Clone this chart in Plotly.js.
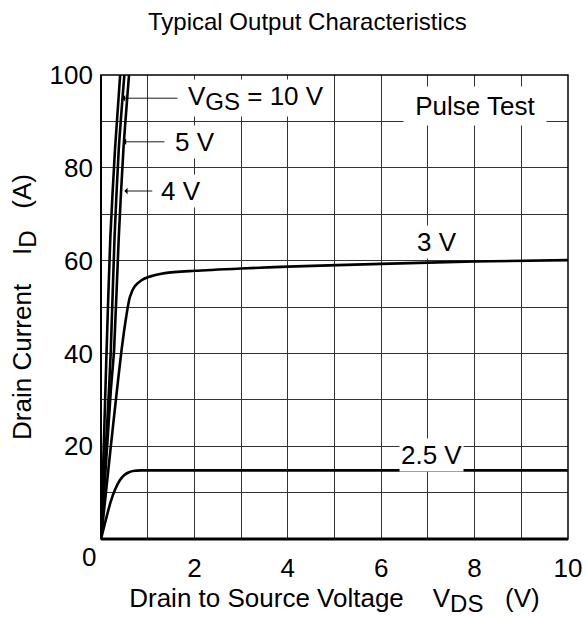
<!DOCTYPE html>
<html>
<head>
<meta charset="utf-8">
<script src="https://cdn.plot.ly/plotly-3.0.1.min.js"></script>
<style>html,body{margin:0;padding:0;background:#fff;}#chart{width:587px;height:617px;}</style>
</head>
<body>
<div id="chart"></div>
<script>
// ---- data ----
const vds10 = [0, 0.12, 0.2, 0.3, 0.41];
const id10  = [0, 40.7, 65, 84, 100];
const vds5  = [0, 0.17, 0.21, 0.29, 0.38, 0.5];
const id5   = [0, 32, 40.7, 65, 84, 100];
const vds4  = [0, 0.21, 0.28, 0.38, 0.48, 0.6];
const id4   = [0, 32, 40.7, 65, 84, 100];
const vds3  = [0, 0.2, 0.33, 0.44, 0.54, 0.62, 0.72, 0.86, 1, 1.37, 2, 3, 4, 6, 8, 10];
const id3   = [0, 19, 31, 40.7, 47.9, 52.2, 54.4, 55.7, 56.4, 57.3, 57.8, 58.3, 58.7, 59.3, 59.8, 60.1];
const vds25 = [0, 0.1, 0.2, 0.3, 0.4, 0.5, 0.6, 0.72, 0.85, 10];
const id25  = [0, 4, 7.8, 10.6, 12.6, 13.8, 14.4, 14.7, 14.8, 14.8];

const xTickVals = [0,1,2,3,4,5,6,7,8,9,10];
const xTickText = ['', '', '2', '', '4', '', '6', '', '8', '', '10'];
const yTickVals = [0,10,20,30,40,50,60,70,80,90,100];
const yTickText = ['', '', '20', '', '40', '', '60', '', '80', '', '100'];

const FONT = 'Liberation Sans, Arial, sans-serif';
const FS = 26;
const SUB = '<span style="font-size:24px">';

const lineStyle = {color: '#000', width: 2.6};
const traces = [
  {x: vds10, y: id10, mode: 'lines', line: Object.assign({shape:'spline', smoothing:0.6}, lineStyle), hoverinfo:'skip'},
  {x: vds5,  y: id5,  mode: 'lines', line: Object.assign({shape:'spline', smoothing:0.6}, lineStyle), hoverinfo:'skip'},
  {x: vds4,  y: id4,  mode: 'lines', line: Object.assign({shape:'spline', smoothing:0.6}, lineStyle), hoverinfo:'skip'},
  {x: vds3,  y: id3,  mode: 'lines', line: Object.assign({shape:'spline', smoothing:0.8}, lineStyle), hoverinfo:'skip'},
  {x: vds25, y: id25, mode: 'lines', line: Object.assign({shape:'spline', smoothing:0.6}, lineStyle), hoverinfo:'skip'}
];

function label(x, y, text, xanchor, pad) {
  return {x: x, y: y, xref: 'x', yref: 'y', text: text, showarrow: false,
    xanchor: xanchor || 'center', yanchor: 'middle', bgcolor: '#fff', borderpad: pad || 1,
    font: {family: FONT, size: FS, color: '#000'}};
}
function arrow(x, y, ax, ay) {
  return {x: x, y: y, ax: ax, ay: ay, xref: 'x', yref: 'y', axref: 'x', ayref: 'y',
    text: '', showarrow: true, arrowhead: 1, arrowsize: 1.2, arrowwidth: 0.9, arrowcolor: '#000', standoff: 0};
}

const annotations = [
  arrow(0.45, 95, 1.67, 95),
  arrow(0.47, 85.6, 1.39, 85.6),
  arrow(0.5, 75, 1.13, 75),
  label(1.82, 95, 'V<sub>' + SUB + 'GS</span></sub> = 10 V', 'left'),
  label(1.55, 85.6, '5 V', 'left'),
  label(1.25, 75, '4 V', 'left'),
  label(8.0, 93.3, ' Pulse Test ', 'center', 4),
  label(7.2, 64, '3 V'),
  label(7.07, 18.2, '2.5 V'),
  {x: 0, y: 0, xref: 'x', yref: 'y', text: '0', showarrow: false, xanchor: 'right', yanchor: 'top',
   xshift: -3, yshift: -1, font: {family: FONT, size: FS, color: '#000'}},
  {x: 0.443, y: 1, xref: 'paper', yref: 'paper', yshift: 38, text: 'Typical Output Characteristics',
   showarrow: false, xanchor: 'center', yanchor: 'bottom', font: {family: FONT, size: 24, color: '#000'}}
];

const shapes = [
  {type: 'rect', xref: 'paper', yref: 'paper', x0: 0, x1: 1, y0: 0, y1: 1, line: {color: '#000', width: 1.5}},
  {type: 'line', xref: 'paper', yref: 'paper', x0: 0, x1: 1, y0: 0, y1: 0, line: {color: '#000', width: 3}},
  {type: 'line', xref: 'paper', yref: 'paper', x0: 0, x1: 0, y0: 0, y1: 1, line: {color: '#000', width: 2}}
];

const layout = {
  width: 587, height: 617,
  margin: {l: 101, r: 19, t: 75, b: 78},
  paper_bgcolor: '#fff', plot_bgcolor: '#fff',
  showlegend: false,
  font: {family: FONT, size: FS, color: '#000'},
  xaxis: {range: [0, 10], tickvals: xTickVals, ticktext: xTickText, showgrid: true, gridcolor: '#333', gridwidth: 1,
    zeroline: false, showline: false, ticks: '', ticklabelstandoff: 11,
    tickfont: {family: FONT, size: FS, color: '#000'},
    title: {text: 'Drain to Source Voltage    V<sub>' + SUB + 'DS</span></sub>   (V)', standoff: 0, font: {family: FONT, size: FS, color: '#000'}}},
  yaxis: {range: [0, 100], tickvals: yTickVals, ticktext: yTickText, showgrid: true, gridcolor: '#333', gridwidth: 1,
    zeroline: false, showline: false, ticks: '', ticklabelstandoff: 7,
    tickfont: {family: FONT, size: FS, color: '#000'},
    title: {text: 'Drain Current    I<sub>' + SUB + 'D</span></sub>   (A)', standoff: 10, font: {family: FONT, size: FS, color: '#000'}}},
  annotations: annotations,
  shapes: shapes
};

Plotly.newPlot('chart', traces, layout, {staticPlot: true, displayModeBar: false});
</script>
</body>
</html>
